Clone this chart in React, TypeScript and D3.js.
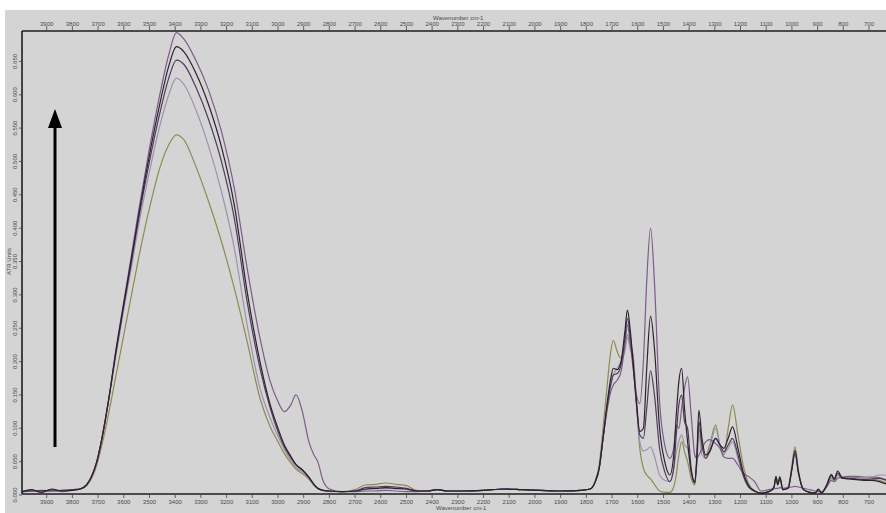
import React from 'react';
import * as d3 from 'd3';

// wavenumber grid (cm-1), descending as in the reference
const wavenumbers = [
  4000, 3960, 3920, 3880, 3840, 3800, 3770, 3745, 3725, 3705,
  3685, 3660, 3630, 3600, 3570, 3545, 3500, 3460, 3425, 3395,
  3365, 3320, 3270, 3220, 3170, 3120, 3070, 3030, 3000, 2975,
  2950, 2930, 2905, 2880, 2860, 2845, 2825, 2800, 2750, 2700,
  2660, 2620, 2580, 2540, 2500, 2460, 2420, 2380, 2340, 2280,
  2200, 2120, 2050, 1980, 1900, 1820, 1785, 1765, 1750, 1735,
  1720, 1705, 1695, 1680, 1665, 1650, 1640, 1630, 1618, 1605,
  1592, 1578, 1565, 1550, 1535, 1515, 1495, 1475, 1460, 1450,
  1440, 1429, 1418, 1406, 1392, 1378, 1370, 1362, 1350, 1335,
  1320, 1297, 1280, 1265, 1248, 1231, 1210, 1190, 1170, 1145,
  1120, 1090, 1070, 1062, 1055, 1047, 1035, 1015, 1000, 988,
  975, 955, 930, 910, 897, 885, 865, 846, 835, 822,
  805, 780, 750, 720, 690, 660, 630, 600,
];

const purpleSeries = [
  .005, .007, .004, .008, .005, .008, .009, .015, .028, .05,
  .085, .14, .22, .29, .36, .42, .52, .6, .66, .693,
  .683, .652, .607, .545, .46, .34, .235, .17, .14, .125,
  .135, .15, .125, .08, .06, .05, .022, .009, .005, .005,
  .006, .006, .007, .006, .005, .005, .006, .008, .006, .006,
  .007, .009, .008, .007, .006, .007, .009, .02, .04, .085,
  .125, .155, .165, .172, .185, .225, .255, .23, .19, .15,
  .137, .2, .32, .4, .32, .14, .075, .055, .07, .105,
  .1, .13, .16, .177, .12, .06, .055, .06, .07, .08,
  .083, .077, .07, .057, .055, .055, .045, .033, .028, .02,
  .006, .008, .009, .01, .01, .011, .01, .011, .012, .013,
  .012, .01, .008, .006, .005, .005, .012, .022, .02, .025,
  .027, .028, .028, .027, .027, .026, .022, .02,
];

const darkSeries = [
  .004, .008, .004, .009, .006, .007, .009, .015, .028, .05,
  .085, .14, .217, .287, .355, .413, .51, .586, .643, .672,
  .664, .633, .585, .522, .435, .305, .2, .135, .1, .075,
  .058, .046, .038, .027, .016, .01, .007, .006, .005, .006,
  .009, .01, .011, .01, .009, .006, .006, .008, .006, .006,
  .007, .009, .008, .007, .006, .007, .009, .02, .04, .085,
  .135, .175, .19, .188, .2, .245, .277, .25, .2, .14,
  .095, .1, .19, .268, .22, .1, .05, .03, .06, .12,
  .17, .19, .13, .08, .035, .018, .06, .127, .085, .06,
  .065, .085, .075, .07, .085, .102, .07, .035, .015, .006,
  .003, .005, .012, .028, .016, .027, .008, .01, .04, .067,
  .035, .008, .004, .003, .009, .003, .015, .031, .024, .036,
  .026, .024, .023, .022, .022, .02, .016, .012,
];

const midPurpleSeries = [
  .005, .006, .007, .006, .007, .008, .009, .015, .028, .05,
  .085, .14, .215, .284, .35, .408, .5, .572, .625, .652,
  .645, .612, .563, .5, .415, .29, .19, .13, .095, .072,
  .056, .045, .037, .026, .016, .01, .007, .006, .005, .006,
  .011, .012, .013, .012, .01, .006, .006, .008, .006, .006,
  .007, .009, .008, .007, .006, .007, .009, .02, .04, .085,
  .13, .165, .18, .182, .195, .235, .265, .24, .195, .135,
  .09, .085, .13, .186, .15, .07, .035, .02, .04, .09,
  .135, .15, .11, .1, .04, .02, .05, .11, .075, .055,
  .065, .085, .075, .065, .075, .085, .06, .03, .013, .006,
  .003, .005, .011, .026, .015, .025, .008, .01, .038, .062,
  .033, .008, .004, .003, .008, .003, .014, .029, .023, .033,
  .025, .025, .024, .023, .024, .025, .022, .02,
];

const lavenderSeries = [
  .004, .006, .005, .006, .007, .007, .009, .015, .028, .05,
  .085, .14, .21, .278, .342, .398, .485, .553, .6, .625,
  .615, .578, .523, .455, .37, .255, .16, .115, .088, .068,
  .052, .042, .035, .025, .015, .01, .007, .005, .005, .006,
  .008, .009, .01, .009, .008, .006, .006, .008, .006, .006,
  .007, .009, .008, .007, .006, .007, .009, .02, .04, .085,
  .13, .165, .18, .19, .2, .215, .235, .22, .205, .14,
  .08, .066, .068, .072, .058, .03, .022, .02, .04, .065,
  .08, .09, .075, .07, .035, .02, .05, .09, .06, .055,
  .07, .1, .075, .062, .07, .08, .055, .03, .012, .005,
  .003, .005, .012, .025, .016, .024, .008, .01, .04, .065,
  .035, .008, .004, .003, .006, .003, .013, .028, .025, .032,
  .026, .026, .025, .024, .026, .03, .03, .028,
];

const oliveSeries = [
  .005, .006, .005, .007, .006, .008, .009, .014, .025, .045,
  .075, .12, .18, .24, .3, .35, .43, .49, .525, .54,
  .532, .493, .44, .38, .31, .23, .145, .102, .08, .062,
  .048, .039, .032, .024, .014, .009, .007, .006, .005, .008,
  .015, .016, .018, .016, .014, .007, .006, .008, .006, .006,
  .007, .009, .008, .007, .006, .007, .009, .022, .045, .1,
  .16, .215, .232, .215, .205, .225, .24, .225, .21, .14,
  .07, .04, .03, .024, .016, .006, .004, .004, .012, .03,
  .06, .08, .065, .05, .025, .015, .05, .1, .07, .06,
  .075, .105, .075, .06, .1, .135, .09, .045, .018, .006,
  .003, .005, .01, .027, .015, .028, .008, .012, .045, .072,
  .038, .008, .004, .003, .007, .003, .012, .025, .022, .03,
  .025, .027, .026, .025, .024, .022, .018, .015,
];

const seriesList = [
  { name: 'olive', values: oliveSeries, color: '#8d8b4f' },
  { name: 'lavender', values: lavenderSeries, color: '#9c93ad' },
  { name: 'purple', values: purpleSeries, color: '#7d5b8a' },
  { name: 'midPurple', values: midPurpleSeries, color: '#513a5c' },
  { name: 'dark', values: darkSeries, color: '#2c2130' },
];

const xTicks = [3900, 3800, 3700, 3600, 3500, 3400, 3300, 3200, 3100, 3000, 2900, 2800, 2700, 2600, 2500, 2400, 2300, 2200, 2100, 2000, 1900, 1800, 1700, 1600, 1500, 1400, 1300, 1200, 1100, 1000, 900, 800, 700];
const yTicks = [0, 0.05, 0.1, 0.15, 0.2, 0.25, 0.3, 0.35, 0.4, 0.45, 0.5, 0.55, 0.6, 0.65];

export default function App() {
  const W = 886;
  const H = 513;
  const left = 22;
  const top = 31;
  const bottom = 494;
  const right = 886;

  const x = d3.scaleLinear().domain([3900, 700]).range([46.7, 869]);
  const y = d3.scaleLinear().domain([0, 0.65]).range([495, 61.4]);

  const line = d3
    .line<number>()
    .x((_, i) => x(wavenumbers[i]))
    .y((d) => y(d))
    .curve(d3.curveMonotoneX);

  const fmt = d3.format('.3f');
  const font = 'Liberation Sans, Arial, sans-serif';

  return (
    <svg
      width={W}
      height={H}
      style={{ position: 'absolute', left: 0, top: 0 }}
      fontFamily={font}
    >
      <rect x={0} y={0} width={W} height={H} fill="#ffffff" />
      <rect x={5} y={10} width={W - 5} height={H - 10} fill="#d4d4d4" />
      <defs>
        <clipPath id="plotClip">
          <rect x={left} y={top} width={right - left} height={bottom - top} />
        </clipPath>
      </defs>

      {/* spectra */}
      <g clipPath="url(#plotClip)">
        {seriesList.map((s) => (
          <path
            key={s.name}
            d={line(s.values) || ''}
            fill="none"
            stroke={s.color}
            strokeWidth={1.2}
            strokeLinejoin="round"
          />
        ))}
      </g>

      {/* frame */}
      <line x1={left} x2={right} y1={top} y2={top} stroke="#1e1e1e" strokeWidth={1.6} />
      <line x1={left} x2={right} y1={bottom} y2={bottom} stroke="#1e1e1e" strokeWidth={1.6} />
      <line x1={left} x2={left} y1={top} y2={bottom} stroke="#1e1e1e" strokeWidth={1.6} />

      {/* top axis */}
      {xTicks.map((t) => (
        <g key={'tt' + t}>
          <line x1={x(t)} x2={x(t)} y1={top} y2={top - 5} stroke="#444" strokeWidth={0.8} />
          <text x={x(t)} y={26} fontSize={6} fill="#4a4a4a" textAnchor="middle">
            {t}
          </text>
        </g>
      ))}
      <text x={433} y={20} fontSize={6} fill="#4a4a4a">
        Wavenumber cm-1
      </text>

      {/* bottom axis */}
      {xTicks.map((t) => (
        <g key={'bt' + t}>
          <line x1={x(t)} x2={x(t)} y1={bottom} y2={bottom + 4} stroke="#444" strokeWidth={0.8} />
          <text x={x(t)} y={504} fontSize={6} fill="#4a4a4a" textAnchor="middle">
            {t}
          </text>
        </g>
      ))}
      <text x={436} y={510} fontSize={6} fill="#4a4a4a">
        Wavenumber cm-1
      </text>

      {/* y axis */}
      {yTicks.map((t) => (
        <g key={'yt' + t}>
          <line x1={left - 3} x2={left} y1={y(t)} y2={y(t)} stroke="#444" strokeWidth={0.8} />
          <text
            transform={`translate(15,${y(t)}) rotate(-90)`}
            fontSize={6}
            fill="#4a4a4a"
            textAnchor="middle"
            dominantBaseline="middle"
          >
            {fmt(t)}
          </text>
        </g>
      ))}
      <text
        transform={`translate(9,${y(0.35)}) rotate(-90)`}
        fontSize={6}
        fill="#4a4a4a"
        textAnchor="middle"
        dominantBaseline="middle"
      >
        ATR Units
      </text>

      {/* arrow */}
      <line x1={55} x2={55} y1={447} y2={124} stroke="#000" strokeWidth={3} />
      <path d="M55,109 L48,128 L62,128 Z" fill="#000" />
    </svg>
  );
}
